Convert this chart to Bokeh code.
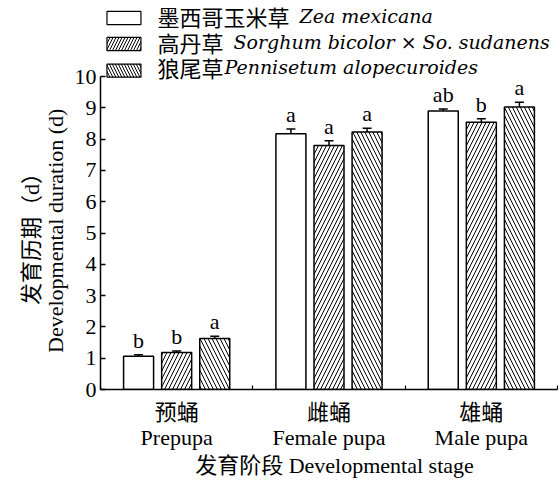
from bokeh.plotting import figure
from bokeh.models import (ColumnDataSource, Range1d, FixedTicker, Whisker, TeeHead, Label,
                          LinearAxis)
from bokeh.core.properties import value
from bokeh.embed import file_html
from bokeh.resources import INLINE

# ---- data ----
stages_cn = ["预蛹", "雌蛹", "雄蛹"]
stages_en = ["Prepupa", "Female pupa", "Male pupa"]
y_ticks = [0, 1, 2, 3, 4, 5, 6, 7, 8, 9, 10]
y_title = ["发育历期（d）", "Developmental duration (d)"]
x_title = "发育阶段  Developmental stage"

series_cn = ["墨西哥玉米草 ", "高丹草 ", "狼尾草"]
series_latin = ["Zea mexicana", "Sorghum bicolor × So. sudanens", "Pennisetum alopecuroides"]

zea_mean = [1.06, 8.17, 8.90]
zea_err = [0.05, 0.15, 0.06]
zea_sig = ["b", "a", "ab"]

sorghum_mean = [1.18, 7.80, 8.54]
sorghum_err = [0.05, 0.15, 0.11]
sorghum_sig = ["b", "a", "b"]

penni_mean = [1.63, 8.23, 9.03]
penni_err = [0.07, 0.12, 0.15]
penni_sig = ["a", "a", "a"]

# ---- styling ----
SERIF = "Liberation Serif, Noto Sans CJK SC"
CJK = "Noto Sans CJK SC"
ITALIC = "DejaVu Serif"
NB = "\u00a0"
hatches = [" ", "/", "\\"]
offsets = [-0.25, 0.0, 0.25]
bar_w = 0.197

p = figure(width=560, height=481, output_backend="svg", toolbar_location=None,
           x_range=Range1d(0, 3), y_range=Range1d(0, 12.43),
           min_border_left=100, min_border_right=3, min_border_top=0, min_border_bottom=92)
p.outline_line_color = None
p.xgrid.visible = False
p.ygrid.visible = False
p.background_fill_color = "white"

series = [
    (zea_mean, zea_err, zea_sig),
    (sorghum_mean, sorghum_err, sorghum_sig),
    (penni_mean, penni_err, penni_sig),
]

for k, (means, errs, sigs) in enumerate(series):
    xs = [i + 0.5 + offsets[k] for i in range(len(stages_en))]
    tops = [m + e for m, e in zip(means, errs)]
    src = ColumnDataSource(dict(x=xs, top=means, up=tops, sig=sigs))
    p.vbar(x="x", top="top", bottom=0, width=bar_w, source=src,
           fill_color="white", line_color="black", line_width=1.5,
           hatch_pattern=hatches[k], hatch_color="black", hatch_weight=1.0, hatch_scale=8)
    p.add_layout(Whisker(base="x", lower="top", upper="up", source=src, dimension="height",
                         line_color="black", line_width=1.5, lower_head=None,
                         upper_head=TeeHead(size=9, line_color="black", line_width=1.5)))
    p.text(x="x", y="up", text="sig", source=src, text_font=value("Liberation Serif"),
           text_font_size="22px", text_align="center", text_baseline="bottom",
           y_offset=-2, text_color="black")

# ---- legend drawn manually (mixed upright / italic labels) ----
leg_box_y = [11.87, 11.04, 10.19]
leg_txt_y = [11.95, 11.09, 10.29]
for k in range(3):
    lsrc = ColumnDataSource(dict(x=[0.154], y=[leg_box_y[k]]))
    p.rect(x="x", y="y", width=0.223, height=0.42, source=lsrc,
           fill_color="white", line_color="black", line_width=1.2,
           hatch_pattern=hatches[k], hatch_color="black", hatch_weight=1.0, hatch_scale=6)
    cn = series_cn[k]
    off = len(cn.rstrip()) * 22 + (10 if cn.endswith(" ") else 1)
    p.add_layout(Label(x=0.374, y=leg_txt_y[k], text=cn.rstrip(), text_font=CJK,
                       text_font_size="22px", text_align="left", text_baseline="middle",
                       text_color="black"))
    p.add_layout(Label(x=0.374, y=leg_txt_y[k], x_offset=off, text=series_latin[k],
                       text_font=ITALIC, text_font_style="italic", text_font_size="19px",
                       text_align="left", text_baseline="middle", text_color="black"))

# ---- axes ----
ya = p.yaxis[0]
ya.bounds = (0, 10)
ya.ticker = FixedTicker(ticks=y_ticks)
ya.major_tick_in = 5
ya.major_tick_out = 0
ya.minor_tick_line_color = None
ya.axis_line_width = 1.5
ya.major_tick_line_width = 1.5
ya.major_label_text_font = "Liberation Serif"
ya.major_label_text_font_size = "22px"
ya.major_label_text_color = "black"
ya.major_label_standoff = 4
# trailing no-break spaces move the frame-centred title onto the 0-10 span
ya.axis_label = y_title[1] + NB * 13
ya.axis_label_text_font = SERIF
ya.axis_label_text_font_size = "22px"
ya.axis_label_text_font_style = "normal"
ya.axis_label_text_color = "black"
ya.axis_label_standoff = 4

# outer (Chinese) line of the y title, as a tick-less second left axis
ya2 = LinearAxis(ticker=FixedTicker(ticks=[]), axis_line_color=None,
                 major_tick_line_color=None, minor_tick_line_color=None,
                 major_label_text_font_size="0px", major_label_standoff=0)
ya2.axis_label = y_title[0] + NB * 14
ya2.axis_label_text_font = SERIF
ya2.axis_label_text_font_size = "22px"
ya2.axis_label_text_font_style = "normal"
ya2.axis_label_text_color = "black"
ya2.axis_label_standoff = -4
p.add_layout(ya2, "left")

xa = p.xaxis[0]
xa.ticker = FixedTicker(ticks=[i + 0.5 for i in range(len(stages_en))],
                        minor_ticks=[0, 1, 2, 3])
xa.major_tick_in = 0
xa.major_tick_out = 0
xa.minor_tick_in = 4
xa.minor_tick_out = 0
xa.minor_tick_line_width = 1.2
xa.axis_line_width = 1.5
xa.major_label_overrides = {i + 0.5: f"{c}\n{e}" for i, (c, e) in enumerate(zip(stages_cn, stages_en))}
xa.major_label_text_font = SERIF
xa.major_label_text_font_size = "22px"
xa.major_label_text_line_height = 1.0
xa.major_label_text_color = "black"
xa.major_label_standoff = 10
xa.axis_label = NB * 3 + x_title
xa.axis_label_text_font = SERIF
xa.axis_label_text_font_size = "22px"
xa.axis_label_text_line_height = 1.0
xa.axis_label_text_font_style = "normal"
xa.axis_label_text_color = "black"
xa.axis_label_standoff = 0

open("out.html", "w").write(file_html(p, INLINE))
